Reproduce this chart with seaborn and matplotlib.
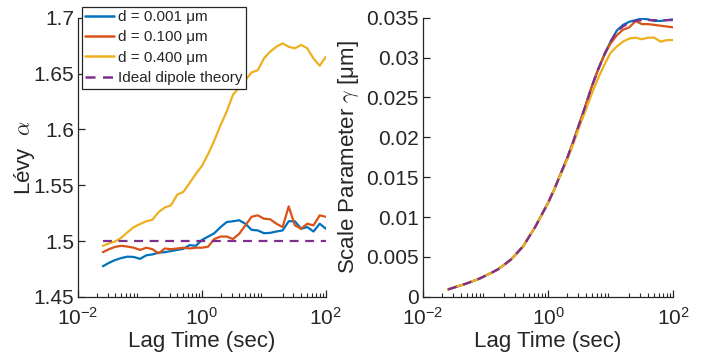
import numpy as np
import pandas as pd
import seaborn as sns
import matplotlib
matplotlib.use("Agg")
import matplotlib.pyplot as plt
from matplotlib.ticker import FixedLocator, FuncFormatter, LogLocator, NullFormatter

# ---------------- data ----------------
lag_time = [0.0251, 0.0316, 0.0398, 0.0501, 0.0631, 0.0794, 0.1, 0.126, 0.158, 0.2,
            0.251, 0.316, 0.398, 0.501, 0.631, 0.794, 1.0, 1.26, 1.58, 2.0,
            2.51, 3.16, 3.98, 5.01, 6.31, 7.94, 10.0, 12.6, 15.8, 20.0,
            25.1, 31.6, 39.8, 50.1, 63.1, 79.4, 100.0]

labels = ["d = 0.001 μm", "d = 0.100 μm", "d = 0.400 μm", "Ideal dipole theory"]

alpha_d001 = [1.4774, 1.4805, 1.483, 1.4848, 1.486, 1.4857, 1.484, 1.4872, 1.488, 1.4896,
              1.490, 1.491, 1.492, 1.493, 1.4963, 1.4957, 1.501, 1.504, 1.507, 1.5125,
              1.517, 1.5177, 1.5186, 1.5155, 1.510, 1.5095, 1.507, 1.5073, 1.5085, 1.5095,
              1.5177, 1.5177, 1.511, 1.5125, 1.5085, 1.5155, 1.511]
alpha_d100 = [1.490, 1.4927, 1.4948, 1.4957, 1.495, 1.494, 1.492, 1.494, 1.4927, 1.489,
              1.4933, 1.4927, 1.4933, 1.494, 1.4933, 1.494, 1.494, 1.495, 1.5018, 1.504,
              1.504, 1.5018, 1.5064, 1.514, 1.5217, 1.523, 1.520, 1.5195, 1.5156, 1.5125,
              1.531, 1.514, 1.511, 1.5155, 1.514, 1.523, 1.5217]
alpha_d400 = [1.4957, 1.4979, 1.4997, 1.503, 1.508, 1.5125, 1.5152, 1.5177, 1.519, 1.526,
              1.530, 1.532, 1.5415, 1.544, 1.552, 1.560, 1.5674, 1.578, 1.590, 1.604,
              1.616, 1.631, 1.6375, 1.644, 1.651, 1.653, 1.6635, 1.6696, 1.674, 1.677,
              1.674, 1.6726, 1.6757, 1.6726, 1.6635, 1.657, 1.665]
alpha_theory = [1.5] * 37

gamma_theory = [0.00093, 0.00118, 0.00143, 0.00169, 0.00198, 0.00228, 0.00266, 0.00304, 0.00346, 0.00405,
                0.00464, 0.00548, 0.00633, 0.00759, 0.00886, 0.01033, 0.0118, 0.0135, 0.0154, 0.0173,
                0.0194, 0.0217, 0.0240, 0.0264, 0.0285, 0.0304, 0.0320, 0.0333, 0.0339, 0.0344,
                0.0346, 0.0347, 0.0347, 0.0347, 0.0347, 0.0347, 0.0347]
gamma_d001 = [0.00093, 0.00118, 0.00143, 0.00169, 0.00198, 0.00228, 0.00266, 0.00304, 0.00346, 0.00405,
              0.00464, 0.00548, 0.00633, 0.00759, 0.00886, 0.01033, 0.0118, 0.0135, 0.0154, 0.0173,
              0.0194, 0.0217, 0.0240, 0.0264, 0.0285, 0.0304, 0.0320, 0.0334, 0.0341, 0.0345,
              0.0347, 0.0349, 0.0348, 0.0346, 0.0346, 0.0347, 0.0348]
gamma_d100 = [0.00093, 0.00118, 0.00143, 0.00169, 0.00198, 0.00228, 0.00266, 0.00304, 0.00346, 0.00405,
              0.00464, 0.00548, 0.00633, 0.00759, 0.00886, 0.01033, 0.0118, 0.0135, 0.0154, 0.0173,
              0.0194, 0.0217, 0.0240, 0.0264, 0.0285, 0.0303, 0.0318, 0.0328, 0.0335, 0.0338,
              0.0346, 0.0342, 0.0342, 0.0341, 0.0340, 0.0339, 0.0338]
gamma_d400 = [0.00093, 0.00118, 0.00143, 0.00169, 0.00198, 0.00228, 0.00266, 0.00304, 0.00346, 0.00405,
              0.00464, 0.00548, 0.00633, 0.00759, 0.00886, 0.01033, 0.0118, 0.0135, 0.0153, 0.0171,
              0.0191, 0.0213, 0.0234, 0.0255, 0.0274, 0.0291, 0.0306, 0.0314, 0.0320, 0.0324,
              0.0325, 0.0323, 0.0325, 0.0325, 0.0320, 0.0322, 0.0322]

colors = ["#0072BD", "#D95319", "#EDB120", "#7E2F8E"]

# ---------------- frames ----------------
def long_frame(series):
    rows = []
    for lab, vals in zip(labels, series):
        for t, v in zip(lag_time, vals):
            rows.append((lab, t, v))
    return pd.DataFrame(rows, columns=["series", "lag", "value"])

df_alpha = long_frame([alpha_d001, alpha_d100, alpha_d400, alpha_theory])
df_gamma = long_frame([gamma_d001, gamma_d100, gamma_d400, gamma_theory])

# ---------------- style ----------------
sns.set_theme(style="ticks")
plt.rcParams["font.family"] = ["Liberation Sans", "DejaVu Sans"]
plt.rcParams["mathtext.fontset"] = "custom"
plt.rcParams["mathtext.rm"] = "Liberation Sans"
plt.rcParams["mathtext.it"] = "cmmi10"
plt.rcParams["mathtext.bf"] = "Liberation Sans:bold"
dark = "#262626"
plt.rcParams.update({
    "axes.edgecolor": dark, "axes.labelcolor": dark,
    "xtick.color": dark, "ytick.color": dark,
    "xtick.direction": "in", "ytick.direction": "in",
    "axes.linewidth": 0.9,
})

fig = plt.figure(figsize=(7.10, 3.62), dpi=100)
ax1 = fig.add_axes([0.110, 0.180, 0.349, 0.771])
ax2 = fig.add_axes([0.596, 0.180, 0.352, 0.771])

palette = dict(zip(labels, colors))
dashes = {labels[0]: "", labels[1]: "", labels[2]: "", labels[3]: (4, 3)}

for ax, df in ((ax1, df_alpha), (ax2, df_gamma)):
    sns.lineplot(data=df, x="lag", y="value", hue="series", style="series",
                 hue_order=labels, style_order=labels, palette=palette,
                 dashes=dashes, linewidth=1.6, ax=ax, legend=(ax is ax1),
                 estimator=None, sort=False)
    ax.set_xscale("log")
    ax.set_xlim(0.01, 100)
    ax.xaxis.set_major_locator(FixedLocator([0.01, 1, 100]))
    ax.xaxis.set_minor_locator(LogLocator(base=10, subs=np.arange(2, 10), numticks=20))
    ax.xaxis.set_minor_formatter(NullFormatter())
    ax.tick_params(axis="both", which="major", labelsize=15, length=5, width=0.9, pad=3)
    ax.tick_params(axis="x", which="major", pad=7.5)
    ax.tick_params(axis="both", which="minor", length=3, width=0.8)
    ax.set_xlabel("Lag Time (sec)", fontsize=16, labelpad=1)
    sns.despine(ax=ax)

ax1.set_ylim(1.45, 1.7)
ax1.yaxis.set_major_locator(FixedLocator([1.45, 1.5, 1.55, 1.6, 1.65, 1.7]))
ax1.yaxis.set_major_formatter(FuncFormatter(lambda v, p: "%g" % round(v, 3)))
ax1.set_ylabel("Lévy  $\\alpha$", fontsize=16, labelpad=-3)

ax2.set_ylim(0, 0.035)
ax2.yaxis.set_major_locator(FixedLocator([0, 0.005, 0.01, 0.015, 0.02, 0.025, 0.03, 0.035]))
ax2.yaxis.set_major_formatter(FuncFormatter(lambda v, p: "%g" % round(v, 4)))
ax2.set_ylabel("Scale Parameter $\\gamma$ [μm]", fontsize=16)

leg = ax1.legend(loc="upper left", bbox_to_anchor=(0.016, 1.04), borderaxespad=0,
                 fontsize=11, frameon=True, fancybox=False, edgecolor=dark,
                 handlelength=1.9, handletextpad=0.25, labelspacing=0.42,
                 borderpad=0.22, title=None)
leg.get_frame().set_linewidth(0.9)
leg.get_frame().set_alpha(1)
for h in leg.get_lines():
    h.set_linewidth(1.8)

fig.savefig("out.png", dpi=100)
